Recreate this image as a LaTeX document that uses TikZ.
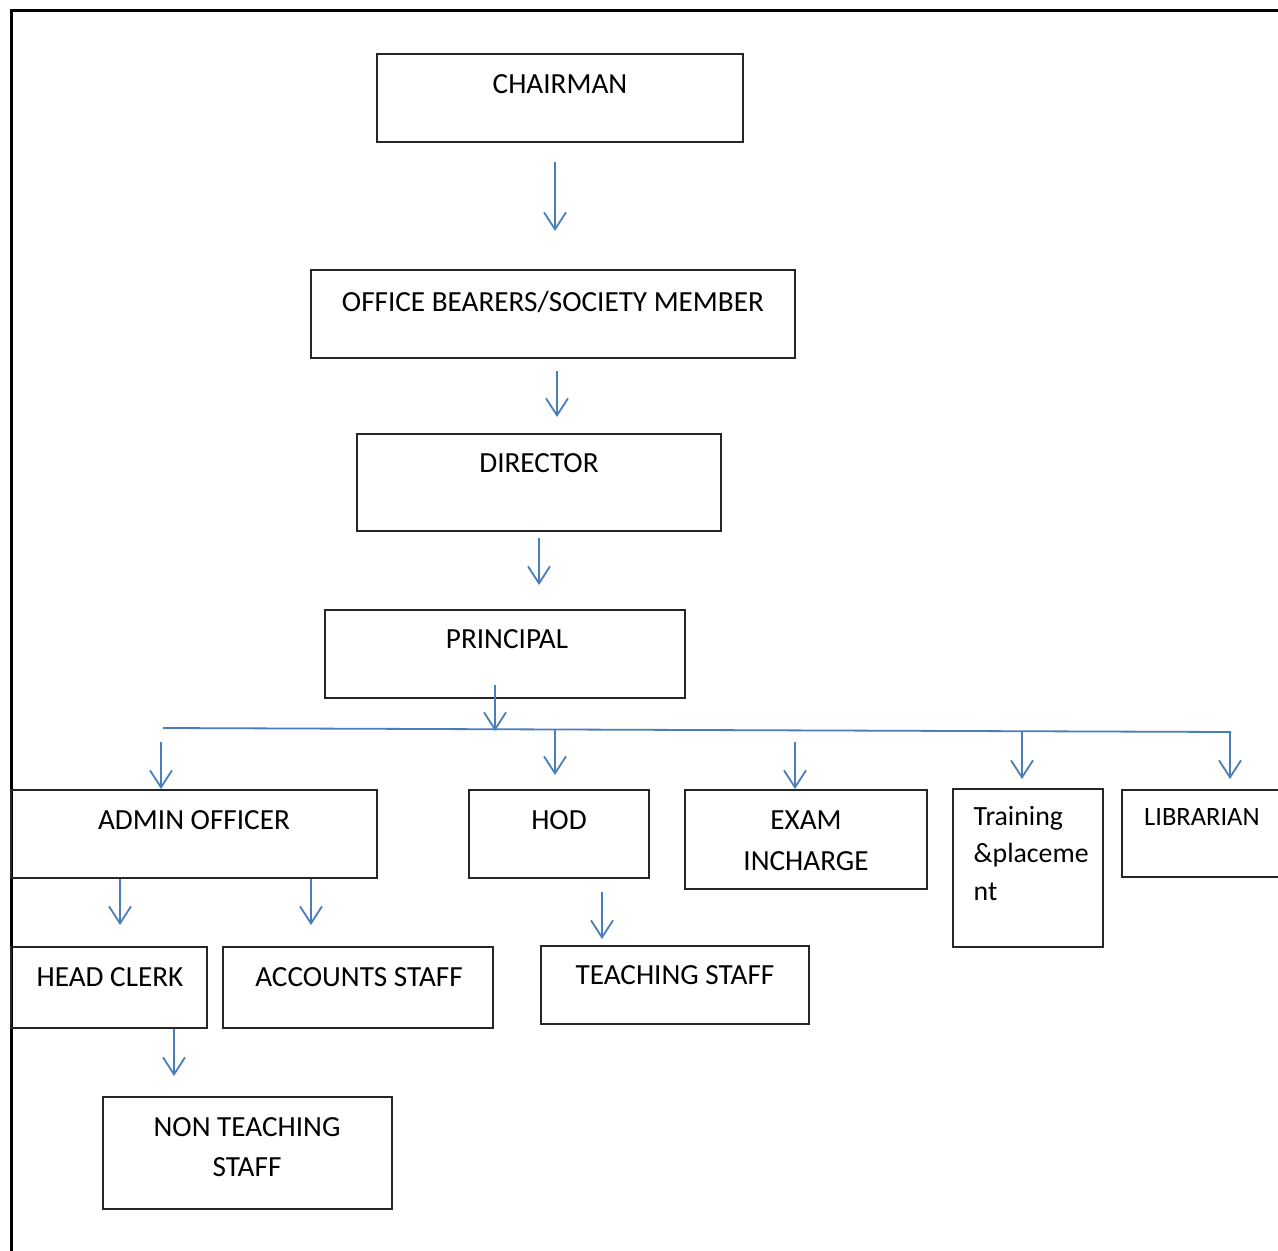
\documentclass[tikz,border=0pt]{standalone}
\usepackage{fontspec}
\setmainfont{Carlito}
\usetikzlibrary{arrows.meta}
\definecolor{arrowblue}{HTML}{4A7EBB}
\newcommand{\fsz}{\fontsize{29.2}{34}\selectfont}
\newcommand{\fszs}{\fontsize{27.8}{34}\selectfont}
\tikzset{
  box/.style={draw=black!85, line width=1.3pt, inner sep=0pt, rectangle},
  lbl/.style={inner sep=0pt, anchor=base, font=\fsz, text=black},
  lblw/.style={inner sep=0pt, anchor=base west, font=\fszs, text=black},
  conn/.style={draw=arrowblue, line width=1.8pt, -{Straight Barb[length=17pt,width=22pt]}},
  hline/.style={draw=arrowblue, line width=1.8pt},
  frame/.style={draw=black, line width=3pt}
}
\begin{document}
\begin{tikzpicture}[x=1pt,y=-1pt]
\clip (0,0) rectangle (1278,1251);
\fill[white] (0,0) rectangle (1278,1251);
% frame
\coordinate (ftr) at (1280,10);
\coordinate (ftl) at (11,10);
\coordinate (fbl) at (11,1253);
\draw[frame] (ftr) -- (ftl) -- (fbl);
% boxes
\node[box, minimum width=366pt, minimum height=88pt] (chair) at (560,98) {};
\node[box, minimum width=484pt, minimum height=88pt] (ob) at (553,314) {};
\node[box, minimum width=364pt, minimum height=97pt] (dir) at (539,482.5) {};
\node[box, minimum width=360pt, minimum height=88pt] (prin) at (505,654) {};
\node[box, minimum width=366pt, minimum height=88pt] (admin) at (194,834) {};
\node[box, minimum width=180pt, minimum height=88pt] (hod) at (559,834) {};
\node[box, minimum width=242pt, minimum height=99pt] (exam) at (806,839.5) {};
\node[box, minimum width=150pt, minimum height=158pt] (train) at (1028,868) {};
\node[box, minimum width=178pt, minimum height=87pt] (lib) at (1211,833.5) {};
\node[box, minimum width=196pt, minimum height=81pt] (hc) at (109,987.5) {};
\node[box, minimum width=270pt, minimum height=81pt] (acc) at (358,987.5) {};
\node[box, minimum width=268pt, minimum height=78pt] (teach) at (675,985) {};
\node[box, minimum width=289pt, minimum height=112pt] (nts) at (247.5,1153) {};
% labels
\node[lbl] (chairT) at (560,93.3) {CHAIRMAN};
\node[lbl] (obT) at (553,311) {OFFICE BEARERS/SOCIETY MEMBER};
\node[lbl] (dirT) at (539,472.5) {DIRECTOR};
\node[lbl] (prinT) at (507,648.5) {PRINCIPAL};
\node[lbl] (adminT) at (194,829.5) {ADMIN OFFICER};
\node[lbl] (hodT) at (559,829.5) {HOD};
\node[lbl] (examT1) at (806,829) {EXAM};
\node[lbl] (examT2) at (806,870) {INCHARGE};
\node[lblw] (trainT1) at (973.5,825) {Training};
\node[lblw] (trainT2) at (973.5,862.5) {\&placeme};
\node[lblw] (trainT3) at (973.5,900) {nt};
\node[lblw, font=\fontsize{26.5}{34}\selectfont] (libT) at (1144,825) {LIBRARIAN};
\node[lbl] (hcT) at (110,986) {HEAD CLERK};
\node[lbl] (accT) at (359,986) {ACCOUNTS STAFF};
\node[lbl] (teachT) at (675,984.5) {TEACHING STAFF};
\node[lbl] (ntsT1) at (247,1136) {NON TEACHING};
\node[lbl] (ntsT2) at (247,1176.7) {STAFF};
% connector coordinates
\coordinate (a1s) at (555,162); \coordinate (a1e) at (555,231);
\coordinate (a2s) at (557,371); \coordinate (a2e) at (557,417);
\coordinate (a3s) at (539,538); \coordinate (a3e) at (539,585);
\coordinate (a4s) at (495,685); \coordinate (a4e) at (495,731);
\coordinate (hl) at (163,728); \coordinate (hr) at (1231,732);
\coordinate (b1s) at (161,742); \coordinate (b1e) at (161,789);
\coordinate (b2s) at (555,729.5); \coordinate (b2e) at (555,775);
\coordinate (b3s) at (795,742); \coordinate (b3e) at (795,789);
\coordinate (b4s) at (1022,731.5); \coordinate (b4e) at (1022,779);
\coordinate (b5s) at (1230,732); \coordinate (b5e) at (1230,779);
\coordinate (c1s) at (120,879); \coordinate (c1e) at (120,925);
\coordinate (c2s) at (311,879); \coordinate (c2e) at (311,925);
\coordinate (c3s) at (602,892); \coordinate (c3e) at (602,939);
\coordinate (c4s) at (174,1029); \coordinate (c4e) at (174,1076);
% connectors
\draw[hline] (hl) -- (hr);
\draw[conn] (a1s) -- (a1e);
\draw[conn] (a2s) -- (a2e);
\draw[conn] (a3s) -- (a3e);
\draw[conn] (a4s) -- (a4e);
\draw[conn] (b1s) -- (b1e);
\draw[conn] (b2s) -- (b2e);
\draw[conn] (b3s) -- (b3e);
\draw[conn] (b4s) -- (b4e);
\draw[conn] (b5s) -- (b5e);
\draw[conn] (c1s) -- (c1e);
\draw[conn] (c2s) -- (c2e);
\draw[conn] (c3s) -- (c3e);
\draw[conn] (c4s) -- (c4e);
\end{tikzpicture}
\end{document}
